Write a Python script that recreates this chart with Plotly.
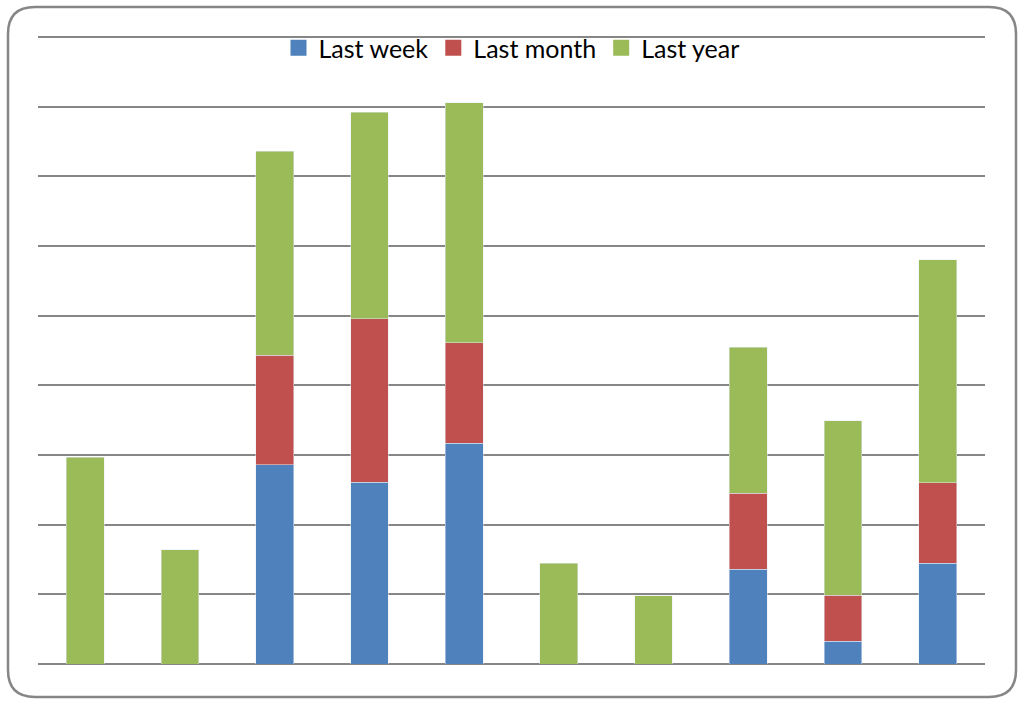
import plotly.graph_objects as go

categories = [1, 2, 3, 4, 5, 6, 7, 8, 9, 10]
last_week = [0, 0, 2.86, 2.61, 3.17, 0, 0, 1.36, 0.33, 1.45]
last_month = [0, 0, 1.57, 2.35, 1.44, 0, 0, 1.09, 0.66, 1.15]
last_year = [2.97, 1.64, 2.93, 2.96, 3.45, 1.45, 0.98, 2.10, 2.50, 3.20]

series = [('Last week', last_week, '#4F81BD'),
          ('Last month', last_month, '#C0504D'),
          ('Last year', last_year, '#9BBB59')]

fig = go.Figure()
for name, vals, color in series:
    fig.add_trace(go.Bar(x=categories, y=vals, name=name, marker_color=color,
                         legendgroup=name, showlegend=False))
# legend entries with bigger square swatches
for name, vals, color in series:
    fig.add_trace(go.Scatter(x=[None], y=[None], mode='markers', name=name,
                             legendgroup=name,
                             marker=dict(symbol='square', size=16, color=color)))

# plot area in pixels; y range slightly above 9 so the top gridline is drawn
y_top = 9.03
base, grid9 = 664, 37
H = (base - grid9) * y_top / 9
T = base - H
L, W = 38, 947

def px(x):
    return (x - L) / W
def py(y):
    return (base - y) / H

# rounded frame around the whole chart
x0, x1, y0, y1, r = 8, 1016, 7, 697, 27
path = (f"M {px(x0 + r)},{py(y0)} L {px(x1 - r)},{py(y0)} "
        f"Q {px(x1)},{py(y0)} {px(x1)},{py(y0 + r)} "
        f"L {px(x1)},{py(y1 - r)} Q {px(x1)},{py(y1)} {px(x1 - r)},{py(y1)} "
        f"L {px(x0 + r)},{py(y1)} Q {px(x0)},{py(y1)} {px(x0)},{py(y1 - r)} "
        f"L {px(x0)},{py(y0 + r)} Q {px(x0)},{py(y0)} {px(x0 + r)},{py(y0)} Z")
fig.add_shape(type='path', path=path, xref='paper', yref='paper',
              line=dict(color='#868686', width=2.5), layer='above')

fig.update_layout(
    barmode='stack',
    bargap=0.6,
    width=1024, height=705,
    margin=dict(l=L, r=1024 - L - W, t=T, b=705 - base),
    plot_bgcolor='white', paper_bgcolor='white',
    font=dict(family='Lato, Open Sans, sans-serif', size=25, color='black'),
    legend=dict(orientation='h', x=0.5, xanchor='center', y=py(48), yanchor='middle',
                bgcolor='rgba(0,0,0,0)', itemwidth=30, itemsizing='trace',
                traceorder='normal'),
    showlegend=True,
)
fig.update_xaxes(showticklabels=False, showgrid=False, zeroline=False,
                 range=[0.5, 10.5], showline=False, ticks='')
fig.update_yaxes(showticklabels=False, range=[0, y_top], dtick=1, showgrid=True,
                 gridcolor='#868686', gridwidth=2, zeroline=True,
                 zerolinecolor='#868686', zerolinewidth=2, ticks='')

fig.write_html("out.html", config={'displayModeBar': False},
               post_script="document.body.style.margin='0';")
